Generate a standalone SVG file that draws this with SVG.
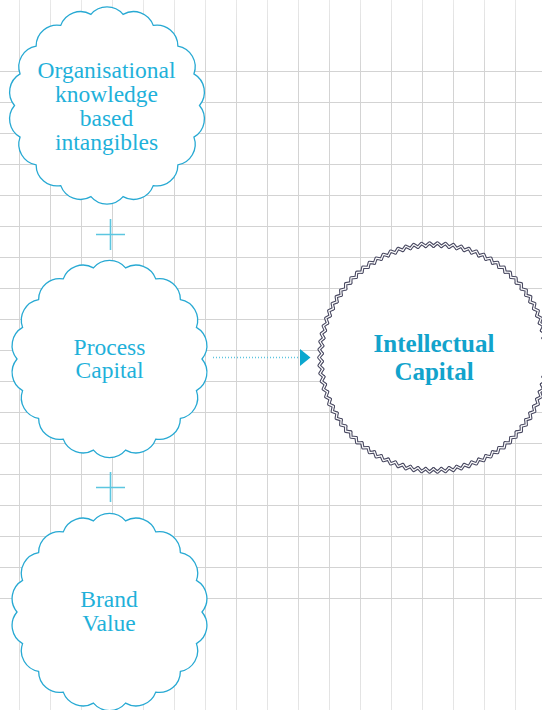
<svg xmlns="http://www.w3.org/2000/svg" xmlns:xlink="http://www.w3.org/1999/xlink" width="542" height="710" viewBox="0 0 542 710">
<style>
.hg{stroke:#d3d3d3;stroke-width:1}
.vg{stroke:url(#vgrad);stroke-width:1}
.cloud{fill:#fff;stroke:#27a9d3;stroke-width:1.3}
.lbl{font-family:"Liberation Serif","Times New Roman",serif;font-size:23.5px;fill:#1fb1da;text-anchor:middle}
.big{font-family:"Liberation Serif","Times New Roman",serif;font-size:25px;font-weight:bold;fill:#12a3cc;text-anchor:middle}
.plus{stroke:#5cc6e0;stroke-width:1.6;fill:none}
</style>
<defs>
<linearGradient id="vgrad" gradientUnits="userSpaceOnUse" x1="0" y1="0" x2="0" y2="710">
<stop offset="0" stop-color="#e9e9e9"/>
<stop offset="0.1" stop-color="#d3d3d3"/>
<stop offset="0.84" stop-color="#d6d6d6"/>
<stop offset="1" stop-color="#e6e6e6"/>
</linearGradient>
<path id="cloudshape" d="M16.06,-91.09 A21 21 0 0 1 46.25,-80.11 A21 21 0 0 1 70.86,-59.46 A21 21 0 0 1 86.92,-31.64 A21 21 0 0 1 92.5,0 A21 21 0 0 1 86.92,31.64 A21 21 0 0 1 70.86,59.46 A21 21 0 0 1 46.25,80.11 A21 21 0 0 1 16.06,91.09 A21 21 0 0 1 -16.06,91.09 A21 21 0 0 1 -46.25,80.11 A21 21 0 0 1 -70.86,59.46 A21 21 0 0 1 -86.92,31.64 A21 21 0 0 1 -92.5,0 A21 21 0 0 1 -86.92,-31.64 A21 21 0 0 1 -70.86,-59.46 A21 21 0 0 1 -46.25,-80.11 A21 21 0 0 1 -16.06,-91.09 A21 21 0 0 1 16.06,-91.09 Z"/>
<path id="tooth" d="M0,-111.4 L3.996,-114.6 L7.778,-111.13" fill="none"/>
<g id="t5">
<use xlink:href="#tooth"/>
<use xlink:href="#tooth" transform="rotate(4)"/>
<use xlink:href="#tooth" transform="rotate(8)"/>
<use xlink:href="#tooth" transform="rotate(12)"/>
<use xlink:href="#tooth" transform="rotate(16)"/>
</g>
<g id="ring">
<use xlink:href="#t5"/>
<use xlink:href="#t5" transform="rotate(20)"/>
<use xlink:href="#t5" transform="rotate(40)"/>
<use xlink:href="#t5" transform="rotate(60)"/>
<use xlink:href="#t5" transform="rotate(80)"/>
<use xlink:href="#t5" transform="rotate(100)"/>
<use xlink:href="#t5" transform="rotate(120)"/>
<use xlink:href="#t5" transform="rotate(140)"/>
<use xlink:href="#t5" transform="rotate(160)"/>
<use xlink:href="#t5" transform="rotate(180)"/>
<use xlink:href="#t5" transform="rotate(200)"/>
<use xlink:href="#t5" transform="rotate(220)"/>
<use xlink:href="#t5" transform="rotate(240)"/>
<use xlink:href="#t5" transform="rotate(260)"/>
<use xlink:href="#t5" transform="rotate(280)"/>
<use xlink:href="#t5" transform="rotate(300)"/>
<use xlink:href="#t5" transform="rotate(320)"/>
<use xlink:href="#t5" transform="rotate(340)"/>
</g>
</defs>
<rect width="542" height="710" fill="#fff"/>
<g id="grid">
<g class="vg">
<line x1="19.5" y1="0" x2="19.5" y2="710"/>
<line x1="50.5" y1="0" x2="50.5" y2="710"/>
<line x1="81.5" y1="0" x2="81.5" y2="710"/>
<line x1="112.5" y1="0" x2="112.5" y2="710"/>
<line x1="143.5" y1="0" x2="143.5" y2="710"/>
<line x1="174.5" y1="0" x2="174.5" y2="710"/>
<line x1="205.5" y1="0" x2="205.5" y2="710"/>
<line x1="236.5" y1="0" x2="236.5" y2="710"/>
<line x1="267.5" y1="0" x2="267.5" y2="710"/>
<line x1="298.5" y1="0" x2="298.5" y2="710"/>
<line x1="329.5" y1="0" x2="329.5" y2="710"/>
<line x1="360.5" y1="0" x2="360.5" y2="710"/>
<line x1="391.5" y1="0" x2="391.5" y2="710"/>
<line x1="422.5" y1="0" x2="422.5" y2="710"/>
<line x1="453.5" y1="0" x2="453.5" y2="710"/>
<line x1="484.5" y1="0" x2="484.5" y2="710"/>
<line x1="515.5" y1="0" x2="515.5" y2="710"/>
</g>
<g class="hg">
<line x1="0" y1="71.5" x2="542" y2="71.5"/>
<line x1="0" y1="102.5" x2="542" y2="102.5"/>
<line x1="0" y1="133.5" x2="542" y2="133.5"/>
<line x1="0" y1="164.5" x2="542" y2="164.5"/>
<line x1="0" y1="195.5" x2="542" y2="195.5"/>
<line x1="0" y1="226.5" x2="542" y2="226.5"/>
<line x1="0" y1="257.5" x2="542" y2="257.5"/>
<line x1="0" y1="288.5" x2="542" y2="288.5"/>
<line x1="0" y1="319.5" x2="542" y2="319.5"/>
<line x1="0" y1="350.5" x2="542" y2="350.5"/>
<line x1="0" y1="381.5" x2="542" y2="381.5"/>
<line x1="0" y1="412.5" x2="542" y2="412.5"/>
<line x1="0" y1="443.5" x2="542" y2="443.5"/>
<line x1="0" y1="474.5" x2="542" y2="474.5"/>
<line x1="0" y1="505.5" x2="542" y2="505.5"/>
<line x1="0" y1="536.5" x2="542" y2="536.5"/>
<line x1="0" y1="567.5" x2="542" y2="567.5"/>
<line x1="0" y1="598.5" x2="542" y2="598.5"/>
</g>
</g>
<g id="connectors">
<path class="plus" d="M96,234.5 H125 M110.5,219 V250"/>
<path class="plus" d="M96,487.5 H125 M110.5,472 V502"/>
<line x1="213" y1="357.5" x2="299" y2="357.5" stroke="#5ec4df" stroke-width="1.3" stroke-dasharray="1 2"/>
<polygon points="300,349 310.5,357.5 300,366" fill="#0ba7cf"/>
</g>
<g id="node-organisational">
<use xlink:href="#cloudshape" class="cloud" transform="translate(107,105.5)"/>
<text class="lbl" x="106.5" y="77.5">Organisational</text>
<text class="lbl" x="106.5" y="101.5">knowledge</text>
<text class="lbl" x="106.5" y="125.5">based</text>
<text class="lbl" x="106.5" y="149.5">intangibles</text>
</g>
<g id="node-process">
<use xlink:href="#cloudshape" class="cloud" transform="translate(109.5,359)"/>
<text class="lbl" x="109.5" y="354.5">Process</text>
<text class="lbl" x="109.5" y="378">Capital</text>
</g>
<g id="node-brand">
<use xlink:href="#cloudshape" class="cloud" transform="translate(109.5,612)"/>
<text class="lbl" x="109" y="607">Brand</text>
<text class="lbl" x="109" y="630.5">Value</text>
</g>
<g id="node-intellectual">
<circle cx="433.5" cy="357.5" r="113" fill="#fff"/>
<use xlink:href="#ring" transform="translate(433.5,357.5)" stroke="#4a4a62" stroke-width="3.4" stroke-linejoin="round" stroke-linecap="round"/>
<use xlink:href="#ring" transform="translate(433.5,357.5)" stroke="#fff" stroke-width="1.2" stroke-linejoin="round" stroke-linecap="round"/>
<text class="big" x="434" y="351.5">Intellectual</text>
<text class="big" x="434" y="380">Capital</text>
</g>
</svg>
